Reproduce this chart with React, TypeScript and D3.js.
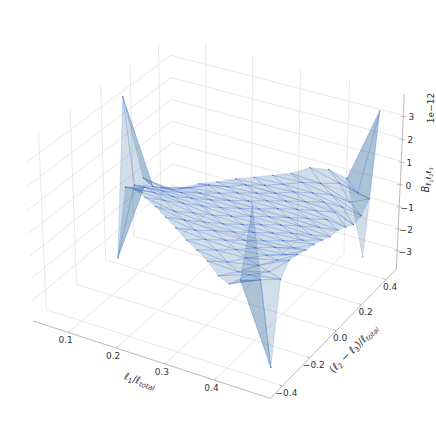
import React from "react";
import * as d3 from "d3";

const WIDTH = 436, HEIGHT = 427;
const totalBins = 33;
const ell1Bins = [2,3,4,5,6,7,8,9,10,11,12,13,14,15,16];
const diffBins = [
  [-1,1],[-2,0,2],[-3,-1,1,3],[-4,-2,0,2,4],[-5,-3,-1,1,3,5],[-6,-4,-2,0,2,4,6],
  [-7,-5,-3,-1,1,3,5,7],[-8,-6,-4,-2,0,2,4,6,8],[-9,-7,-5,-3,-1,1,3,5,7,9],
  [-10,-8,-6,-4,-2,0,2,4,6,8,10],[-11,-9,-7,-5,-3,-1,1,3,5,7,9,11],
  [-12,-10,-8,-6,-4,-2,0,2,4,6,8,10,12],[-13,-11,-9,-7,-5,-3,-1,1,3,5,7,9,11,13],
  [-14,-12,-10,-8,-6,-4,-2,0,2,4,6,8,10,12,14],
  [-13,-11,-9,-7,-5,-3,-1,1,3,5,7,9,11,13],
];
const bispec = [
  [-3.4,3.5],
  [.17,-.05,-.05],
  [.4,.2,-.1,-.45],
  [.4,.3,.05,-.2,-.47],
  [.36,.3,.15,0,-.1,-.24],
  [.24,.17,.2,.1,0,.04,-.13],
  [.12,.13,.12,.1,.05,.03,0,.03],
  [-.05,.05,.08,.05,.05,.05,.06,.1,.13],
  [-.12,0,.05,.02,.03,.05,.05,.08,.11,.24],
  [-.23,-.1,0,.02,.02,.05,.05,.08,.1,.18,.35],
  [-.5,-.25,-.05,.02,.03,.03,.05,.08,.1,.18,.29,.63],
  [-.48,-.3,-.05,.05,.02,.03,.05,.05,.08,.1,.16,.27,.57],
  [.07,-.05,0,.1,.1,.05,.05,.03,.03,.05,.1,.1,.3,.2],
  [3.5,.1,.1,.25,.15,.1,.1,0,0,0,0,-.1,-.2,-.1,-3.35],
  [-3.3,.16,.62,.52,.37,.28,.13,-.05,-.1,-.3,-.52,-.45,-.03,3.5],
];
const xTicks = [0.1,0.2,0.3,0.4];
const yTicks = [-0.4,-0.2,0,0.2,0.4];
const zTicks = [-3,-2,-1,0,1,2,3];
const xLim = [0.0236,0.5097], yLim = [-0.4865,0.4865], zLim = [-3.9,3.9];

const ELEV = 30, AZIM = -60, DIST = 10, SCALE = 2285, CX = 218, CY = 208;
const box = [1.19,1.19,0.893];
const sx = d3.scaleLinear().domain(xLim).range([0,box[0]]);
const sy = d3.scaleLinear().domain(yLim).range([0,box[1]]);
const sz = d3.scaleLinear().domain(zLim).range([0,box[2]]);
const rad = Math.PI/180;
const eyeDir = [Math.cos(ELEV*rad)*Math.cos(AZIM*rad),Math.cos(ELEV*rad)*Math.sin(AZIM*rad),Math.sin(ELEV*rad)];
const uu = (()=>{const n=Math.hypot(eyeDir[0],eyeDir[1]);return [-eyeDir[1]/n,eyeDir[0]/n,0];})();
const vv = [eyeDir[1]*uu[2]-eyeDir[2]*uu[1],eyeDir[2]*uu[0]-eyeDir[0]*uu[2],eyeDir[0]*uu[1]-eyeDir[1]*uu[0]];
function project(x:number,y:number,z:number):[number,number]{
  const p=[sx(x)-box[0]/2,sy(y)-box[1]/2,sz(z)-box[2]/2];
  const dot=(a:number[],b:number[])=>a[0]*b[0]+a[1]*b[1]+a[2]*b[2];
  const de=DIST-dot(p,eyeDir);
  return [CX+SCALE*dot(p,uu)/de,CY-SCALE*dot(p,vv)/de];
}
const points:{x:number,y:number,z:number}[]=[];
ell1Bins.forEach((b,i)=>diffBins[i].forEach((d,k)=>points.push({x:b/totalBins,y:d/totalBins,z:bispec[i][k]})));
// A slight squeeze along l1 resolves the lattice's cocircular diamonds towards the l1-direction diagonal.
const del=d3.Delaunay.from(points,(p)=>p.x*0.98,(p)=>p.y);
const tris:number[][]=[];
const maxEdge=2.3/totalBins;
for(let t=0;t<del.triangles.length;t+=3){
  const tri=[del.triangles[t],del.triangles[t+1],del.triangles[t+2]];
  const long=tri.some((a,i)=>{const b=tri[(i+1)%3];return Math.hypot(points[a].x-points[b].x,points[a].y-points[b].y)>maxEdge;});
  if(!long)tris.push(tri);
}

const line=(a:[number,number],b:[number,number],stroke:string,w:number,key:string)=>
  <line key={key} x1={a[0]} y1={a[1]} x2={b[0]} y2={b[1]} stroke={stroke} strokeWidth={w}/>;
const GRID="#e2e2e2", AXIS="#a8a8a8", FONT="'DejaVu Sans'", INK="#333";

export default function App(){
  const [x0,x1]=xLim,[y0,y1]=yLim,[z0,z1]=zLim;
  const grid:any[]=[];
  xTicks.forEach((t,i)=>{grid.push(line(project(t,y0,z0),project(t,y1,z0),GRID,0.8,"gx"+i));grid.push(line(project(t,y1,z0),project(t,y1,z1),GRID,0.8,"gxb"+i));});
  yTicks.forEach((t,i)=>{grid.push(line(project(x0,t,z0),project(x1,t,z0),GRID,0.8,"gy"+i));grid.push(line(project(x0,t,z0),project(x0,t,z1),GRID,0.8,"gyb"+i));});
  zTicks.forEach((t,i)=>{grid.push(line(project(x0,y0,t),project(x0,y1,t),GRID,0.8,"gz"+i));grid.push(line(project(x0,y1,t),project(x1,y1,t),GRID,0.8,"gzb"+i));});
  const axes=[line(project(x0,y0,z0),project(x1,y0,z0),AXIS,0.8,"ax"),line(project(x1,y0,z0),project(x1,y1,z0),AXIS,0.8,"ay"),line(project(x1,y1,z0),project(x1,y1,z1),AXIS,0.8,"az")];
  const txt={fontFamily:FONT,fontSize:9,fill:INK,textAnchor:"middle" as const,dominantBaseline:"central" as const};
  return <svg width={WIDTH} height={HEIGHT} style={{position:"fixed",left:0,top:0,background:"#fff"}}>
    {grid}{axes}
    {xTicks.map(t=>{const p=project(t,y0,z0);return <g key={"xt"+t}><line x1={p[0]} y1={p[1]} x2={p[0]+1.5} y2={p[1]-2} stroke={AXIS} strokeWidth={0.7}/><text x={p[0]-3} y={p[1]+8} {...txt}>{t.toFixed(1)}</text></g>;})}
    {yTicks.map(t=>{const p=project(x1,t,z0);return <g key={"yt"+t}><line x1={p[0]} y1={p[1]} x2={p[0]-3} y2={p[1]-1} stroke={AXIS} strokeWidth={0.7}/><text x={p[0]+4} y={p[1]+7} {...txt}>{(t<0?"\u2212":"")+Math.abs(t).toFixed(1)}</text></g>;})}
    {zTicks.map(t=>{const p=project(x1,y1,t);return <g key={"zt"+t}><line x1={p[0]-3} y1={p[1]+1} x2={p[0]+3} y2={p[1]+1.5} stroke={AXIS} strokeWidth={0.7}/><text x={p[0]+8} y={p[1]+2} {...txt}>{(t<0?"\u2212":"")+Math.abs(t)}</text></g>;})}
    {tris.map((t,i)=>{const d=t.map(k=>project(points[k].x,points[k].y,points[k].z));
      return <path key={i} d={"M"+d.map(p=>p.join(",")).join("L")+"Z"} fill="rgb(24,91,138)" fillOpacity={0.2} stroke="rgb(70,110,225)" strokeWidth={0.45} strokeOpacity={0.42}/>;})}
    {points.map((p,i)=>{const q=project(p.x,p.y,p.z);return <circle key={i} cx={q[0]} cy={q[1]} r={0.65} fill="#3a55e8" fillOpacity={0.85}/>;})}
    <text transform="translate(139,384) rotate(18)" fontFamily={FONT} fontSize={10} fill={INK} textAnchor="middle"><tspan fontStyle="italic">ℓ</tspan><tspan fontSize={7} dy={2}>1</tspan><tspan dy={-2}>/</tspan><tspan fontStyle="italic">ℓ</tspan><tspan fontSize={7} fontStyle="italic" dy={2}>total</tspan></text>
    <text transform="translate(356,351) rotate(-45)" fontFamily={FONT} fontSize={10} fill={INK} textAnchor="middle">(<tspan fontStyle="italic">ℓ</tspan><tspan fontSize={7} dy={2}>2</tspan><tspan dy={-2}> − </tspan><tspan fontStyle="italic">ℓ</tspan><tspan fontSize={7} dy={2}>3</tspan><tspan dy={-2}>)/</tspan><tspan fontStyle="italic">ℓ</tspan><tspan fontSize={7} fontStyle="italic" dy={2}>total</tspan></text>
    <text transform="translate(429,180) rotate(-90)" fontFamily={FONT} fontSize={10} fill={INK} textAnchor="middle"><tspan fontStyle="italic">B</tspan><tspan fontSize={7} fontStyle="italic" dy={2}>ℓ</tspan><tspan fontSize={5} dy={1.5}>1</tspan><tspan fontSize={7} fontStyle="italic" dy={-1.5}>ℓ</tspan><tspan fontSize={5} dy={1.5}>2</tspan><tspan fontSize={7} fontStyle="italic" dy={-1.5}>ℓ</tspan><tspan fontSize={5} dy={1.5}>3</tspan></text>
    <text transform="translate(434,108) rotate(-90)" fontFamily={FONT} fontSize={9} fill={INK} textAnchor="middle">1e−12</text>
  </svg>;
}
